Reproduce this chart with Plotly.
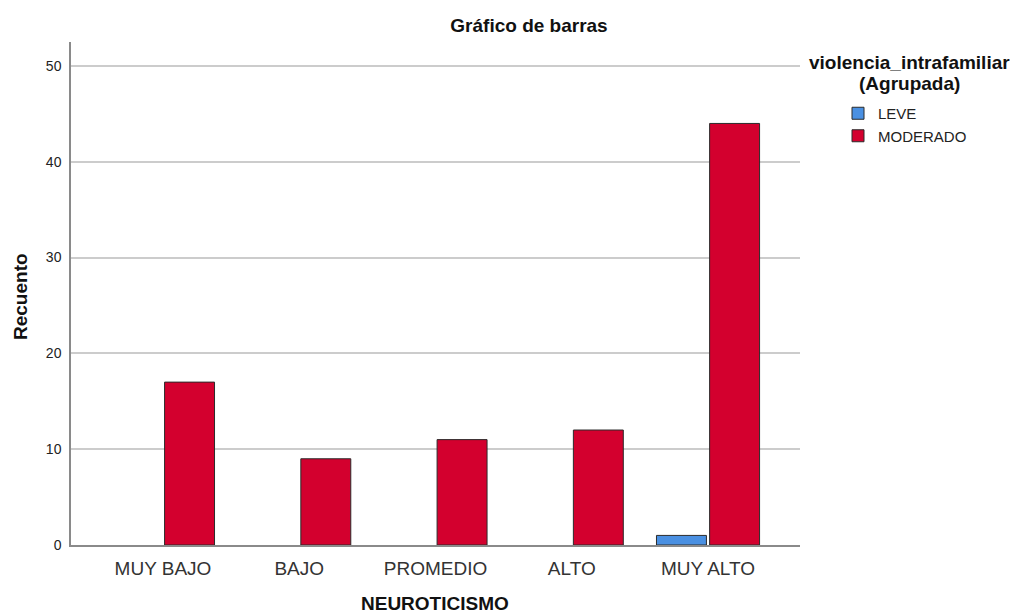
import plotly.graph_objects as go

categories = ["MUY BAJO", "BAJO", "PROMEDIO", "ALTO", "MUY ALTO"]
leve = [None, None, None, None, 1]
moderado = [17, 9, 11, 12, 44]
series_names = ["LEVE", "MODERADO"]
y_ticks = [0, 10, 20, 30, 40, 50]

FONT = "Liberation Sans, Arial, sans-serif"

fig = go.Figure()
fig.add_trace(go.Bar(
    x=categories, y=leve, name=series_names[0],
    marker=dict(color="#4A90E2", line=dict(color="#2b2b2b", width=1)),
))
fig.add_trace(go.Bar(
    x=categories, y=moderado, name=series_names[1],
    marker=dict(color="#D3002E", line=dict(color="#2b2b2b", width=1)),
))

fig.update_layout(
    width=1025, height=614,
    margin=dict(l=71, r=225, t=42, b=69, autoexpand=False),
    paper_bgcolor="white", plot_bgcolor="white",
    barmode="group", bargap=0.22, bargroupgap=0.06,
    font=dict(family=FONT, color="#222"),
    title=dict(text="<b>Gráfico de barras</b>", x=529/1025, xref="container", xanchor="center",
               y=1-25/614, yref="container", yanchor="middle",
               font=dict(size=19, color="#111", family=FONT)),
    showlegend=True,
    legend=dict(x=(838-71)/(800-71), xref="paper", xanchor="left",
                y=1-(97-42)/(545-42), yanchor="top",
                font=dict(size=15, color="#222", family=FONT),
                itemwidth=30, tracegroupgap=0, bgcolor="rgba(0,0,0,0)"),
)

fig.update_xaxes(
    range=[-0.675, 4.675], showgrid=False,
    showline=True, linecolor="#8a8a8a", linewidth=1.5,
    ticks="", tickfont=dict(size=19, color="#333", family=FONT),
    ticklabelstandoff=5,
)
fig.update_yaxes(
    range=[0, 52.5], tickvals=y_ticks, showgrid=True, gridcolor="#cccccc", gridwidth=1.5,
    showline=True, linecolor="#8a8a8a", linewidth=1.5, zeroline=False,
    ticks="", tickfont=dict(size=14, color="#222", family=FONT),
    ticklabelstandoff=5,
)

annotations = [
    dict(text="<b>NEUROTICISMO</b>", x=435, y=603),
    dict(text="<b>violencia_intrafamiliar</b>", x=910, y=63),
    dict(text="<b>(Agrupada)</b>", x=910, y=83),
]
for a in annotations:
    fig.add_annotation(text=a["text"], xref="paper", yref="paper",
                       x=(a["x"]-71)/(800-71), y=1-(a["y"]-42)/(545-42),
                       xanchor="center", yanchor="middle", showarrow=False,
                       font=dict(size=19, color="#111", family=FONT))
fig.add_annotation(text="<b>Recuento</b>", xref="paper", yref="paper",
                   x=(20-71)/(800-71), y=1-(297-42)/(545-42), textangle=-90,
                   xanchor="center", yanchor="middle", showarrow=False,
                   font=dict(size=19, color="#111", family=FONT))

fig.write_html("out.html", config={"displayModeBar": False},
               post_script="document.body.style.margin='0';document.body.style.overflow='hidden';")
